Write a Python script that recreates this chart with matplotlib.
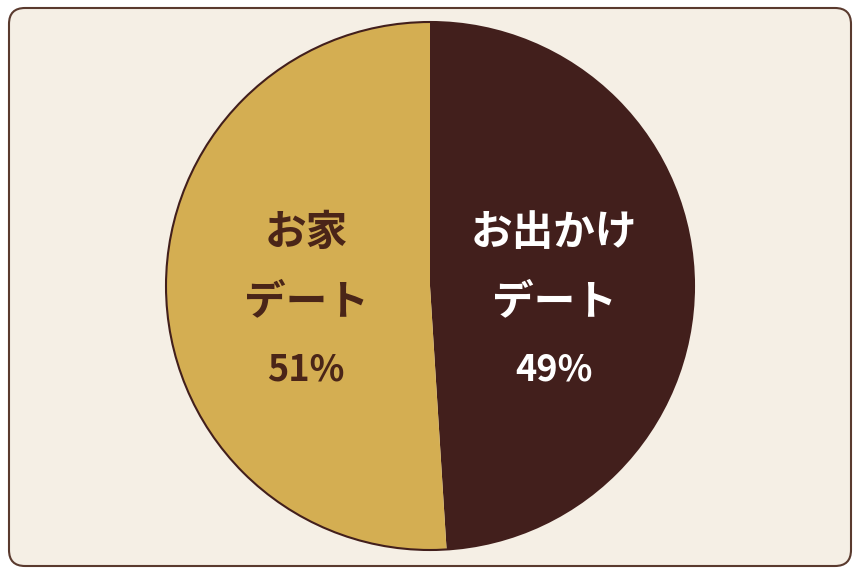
import numpy as np
import matplotlib
matplotlib.use("Agg")
import matplotlib.pyplot as plt
from matplotlib.patches import FancyBboxPatch, Circle

# data
name_lines = [["お出かけ", "デート"], ["お家", "デート"]]
shares = [49, 51]
slice_colors = ["#421F1C", "#D4AE52"]
text_colors = ["#FFFFFF", "#4A2518"]

BG = "#F5EFE5"
EDGE = "#5A3A2E"
DARK = "#421F1C"

W, H = 860, 574
fig = plt.figure(figsize=(W / 100, H / 100), dpi=100)
fig.patch.set_facecolor("white")
ax = fig.add_axes([0, 0, 1, 1])

# rounded card background
card = FancyBboxPatch((9, 8), 842, 558, boxstyle="round,pad=0,rounding_size=16",
                      facecolor=BG, edgecolor=EDGE, linewidth=1.5, zorder=0)
ax.add_patch(card)

cx, cy, r = 430, H - 286, 264
wedges, _ = ax.pie(shares, colors=slice_colors, startangle=90, counterclock=False,
                   center=(cx, cy), radius=r, frame=True,
                   wedgeprops=dict(linewidth=0, antialiased=True))
ax.add_patch(Circle((cx, cy), r, facecolor="none", edgecolor=DARK, linewidth=1.5, zorder=5))
ax.set_xlim(0, W)
ax.set_ylim(0, H)
ax.set_aspect("equal")
ax.axis("off")

font = ["Noto Sans CJK JP", "DejaVu Sans"]
line_dy = [53, -16]
for w, lines, pct, tc in zip(wedges, name_lines, shares, text_colors):
    ang = np.deg2rad((w.theta1 + w.theta2) / 2)
    tx = cx + r * 0.47 * np.cos(ang)
    for ln, dy in zip(lines, line_dy):
        ax.text(tx, cy + dy, ln, ha="center", va="center", color=tc,
                fontsize=30, fontweight="bold", family=font, zorder=6)
    ax.text(tx, cy - 84, f"{pct}%", ha="center", va="center", color=tc,
            fontsize=26, fontweight="bold", family=font, zorder=6)

fig.savefig("out.png", dpi=100, facecolor=fig.get_facecolor())
